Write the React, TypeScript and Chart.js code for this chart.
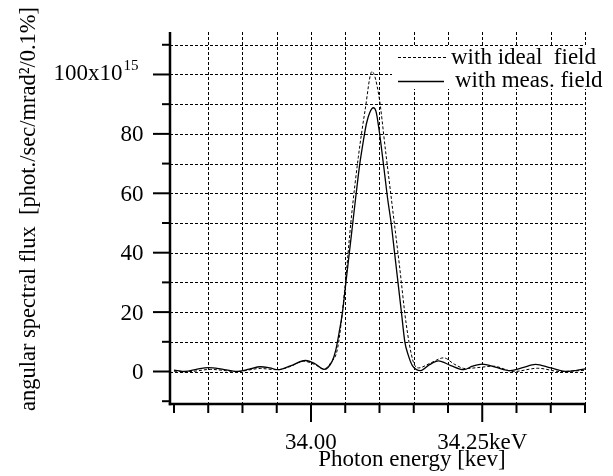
import React, { useEffect, useRef } from "react";
import { Chart, registerables } from "chart.js";

Chart.register(...registerables);

// ---- data ----
const energyIdeal = [
  33.800, 33.823, 33.853, 33.892, 33.926, 33.951, 33.970, 33.989, 34.005, 34.019,
  34.029, 34.039, 34.049, 34.059, 34.069, 34.079, 34.089, 34.099, 34.109, 34.119,
  34.129, 34.139, 34.149, 34.157, 34.174, 34.194, 34.209, 34.225, 34.247, 34.266,
  34.296, 34.331, 34.364, 34.400,
];
const fluxIdeal = [
  0.1, 0.0, 0.7, 0.0, 1.0, 0.6, 1.7, 3.5, 2.4, 0.9,
  3.0, 8, 27, 52, 72, 88, 101, 93, 74, 55,
  36, 16, 3.5, 1.2, 2.8, 4.6, 2.5, 1.0, 1.4, 1.8,
  0.0, 1.1, 0.0, 0.4,
];

const energyMeas = [
  33.800, 33.816, 33.834, 33.850, 33.870, 33.892, 33.910, 33.926, 33.940, 33.952,
  33.970, 33.992, 34.006, 34.019, 34.031, 34.036, 34.041, 34.046, 34.051, 34.056,
  34.061, 34.066, 34.071, 34.076, 34.081, 34.086, 34.091, 34.095, 34.099, 34.103,
  34.107, 34.112, 34.117, 34.122, 34.127, 34.132, 34.137, 34.142, 34.148, 34.160,
  34.173, 34.186, 34.204, 34.223, 34.236, 34.250, 34.269, 34.291, 34.309, 34.328,
  34.350, 34.375, 34.388, 34.400,
];
const fluxMeas = [
  0.5, 0.0, 0.8, 1.3, 0.8, 0.0, 0.8, 1.6, 1.2, 0.6,
  1.9, 3.7, 2.6, 0.7, 3.5, 7, 13, 20, 30, 40,
  50, 60, 69.5, 77, 83.5, 87.3, 88.8, 87.5, 82, 75,
  67.5, 58, 50, 40, 30, 20, 10, 5.5, 2.0, 0.3,
  2.3, 3.6, 2.0, 0.6, 1.8, 2.5, 1.5, 0.3, 1.3, 2.4,
  1.2, 0.0, 0.4, 0.9,
];

const xMin = 33.7942;
const xMax = 34.4;
const yMin = -10.94;
const yMax = 114.3;

const xTickValues = [33.8, 33.85, 33.9, 33.95, 34.0, 34.05, 34.1, 34.15, 34.2, 34.25, 34.3, 34.35, 34.4];
const xGridValues = [33.85, 33.9, 33.95, 34.0, 34.05, 34.1, 34.15, 34.2, 34.25, 34.3, 34.35, 34.4];
const xLabelValues = [34.0, 34.25];
const xLabelTexts = ["34.00", "34.25keV"];

const yTickValues = [-10, 0, 10, 20, 30, 40, 50, 60, 70, 80, 90, 100, 110];
const yGridValues = [0, 10, 20, 30, 40, 50, 60, 70, 80, 90, 100, 110];
const yLabelValues = [0, 20, 40, 60, 80];
const yLabelTexts = ["0", "20", "40", "60", "80"];
const yTopLabelValue = 100;
const yTopLabelBase = "100x10";
const yTopLabelExp = "15";

const legendTexts = ["with ideal  field", "with meas. field"];
const xTitle = "Photon energy [kev]";
const yTitle = "angular spectral flux  [phot./sec/mrad\u00B2/0.1%]";

const FONT = '"Liberation Serif", "Times New Roman", serif';

const framePlugin = {
  id: "frame",
  beforeDraw(chart: any) {
    const ctx = chart.ctx;
    ctx.save();
    ctx.fillStyle = "#fff";
    ctx.fillRect(0, 0, chart.width, chart.height);
    ctx.restore();
  },
  beforeDatasetsDraw(chart: any) {
    const { ctx, chartArea: a, scales } = chart;
    const x = scales.x;
    const y = scales.y;
    ctx.save();
    ctx.strokeStyle = "#000";
    ctx.lineWidth = 1;
    ctx.setLineDash([3, 2]);
    for (const v of xGridValues) {
      const px = Math.round(x.getPixelForValue(v)) + 0.5;
      ctx.beginPath();
      ctx.moveTo(px, a.top);
      ctx.lineTo(px, a.bottom);
      ctx.stroke();
    }
    for (const v of yGridValues) {
      const py = Math.round(y.getPixelForValue(v)) + 0.5;
      ctx.beginPath();
      ctx.moveTo(a.left, py);
      ctx.lineTo(a.right, py);
      ctx.stroke();
    }
    ctx.restore();
  },
  afterDatasetsDraw(chart: any) {
    const { ctx, chartArea: a, scales } = chart;
    const x = scales.x;
    const y = scales.y;
    ctx.save();

    // legend (white box over grid)
    ctx.fillStyle = "#fff";
    ctx.fillRect(392, 47, 221, 42);
    ctx.strokeStyle = "#000";
    ctx.lineWidth = 1;
    ctx.setLineDash([3, 2]);
    ctx.beginPath();
    ctx.moveTo(398, 57.5);
    ctx.lineTo(447, 57.5);
    ctx.stroke();
    ctx.setLineDash([]);
    ctx.lineWidth = 1.3;
    ctx.beginPath();
    ctx.moveTo(398, 81.5);
    ctx.lineTo(444, 81.5);
    ctx.stroke();
    ctx.fillStyle = "#000";
    ctx.font = `23px ${FONT}`;
    ctx.textAlign = "left";
    ctx.textBaseline = "alphabetic";
    ctx.fillText(legendTexts[0], 451, 64);
    ctx.fillText(legendTexts[1], 455, 87);

    // axis lines
    ctx.setLineDash([]);
    ctx.lineWidth = 2.5;
    ctx.beginPath();
    ctx.moveTo(a.left, a.top);
    ctx.lineTo(a.left, a.bottom + 1.25);
    ctx.stroke();
    ctx.beginPath();
    ctx.moveTo(a.left - 1.25, a.bottom);
    ctx.lineTo(a.right + 1, a.bottom);
    ctx.stroke();

    // y ticks
    ctx.lineWidth = 2;
    for (const v of yTickValues) {
      const py = y.getPixelForValue(v);
      const major = v % 20 === 0;
      ctx.beginPath();
      ctx.moveTo(a.left - (major ? 17 : 8), py);
      ctx.lineTo(a.left, py);
      ctx.stroke();
    }
    // x ticks
    for (const v of xTickValues) {
      const px = x.getPixelForValue(v);
      const major = xLabelValues.some((m) => Math.abs(m - v) < 1e-6);
      ctx.beginPath();
      ctx.moveTo(px, a.bottom);
      ctx.lineTo(px, a.bottom + (major ? 18 : 9));
      ctx.stroke();
    }

    // y labels
    ctx.font = `23px ${FONT}`;
    ctx.textAlign = "right";
    ctx.textBaseline = "alphabetic";
    yLabelValues.forEach((v, i) => {
      const py = y.getPixelForValue(v);
      ctx.fillText(yLabelTexts[i], 143.5, py + 7.5);
    });
    {
      const py = y.getPixelForValue(yTopLabelValue);
      ctx.fillText(yTopLabelBase, 122.5, py + 6);
      ctx.font = `15px ${FONT}`;
      ctx.textAlign = "left";
      ctx.fillText(yTopLabelExp, 123.5, py - 4.5);
    }

    // x labels
    ctx.font = `23px ${FONT}`;
    ctx.textAlign = "center";
    xLabelValues.forEach((v, i) => {
      const px = x.getPixelForValue(v);
      ctx.fillText(xLabelTexts[i], px, 449);
    });
    ctx.fillText(xTitle, 412, 466);

    // y title
    ctx.save();
    ctx.font = `22.5px ${FONT}`;
    ctx.translate(35, 209);
    ctx.rotate(-Math.PI / 2);
    ctx.textAlign = "center";
    ctx.fillText(yTitle, 0, 0);
    ctx.restore();

    ctx.restore();
  },
};

export default function App() {
  const canvasRef = useRef<HTMLCanvasElement | null>(null);

  useEffect(() => {
    const canvas = canvasRef.current;
    if (!canvas) return;
    const chart = new Chart(canvas, {
      type: "line",
      data: {
        datasets: [
          {
            label: legendTexts[0],
            data: energyIdeal.map((e, i) => ({ x: e, y: fluxIdeal[i] })),
            borderColor: "#000",
            borderWidth: 1,
            borderDash: [3, 2],
            pointRadius: 0,
            fill: false,
            cubicInterpolationMode: "monotone",
          },
          {
            label: legendTexts[1],
            data: energyMeas.map((e, i) => ({ x: e, y: fluxMeas[i] })),
            borderColor: "#000",
            borderWidth: 1.3,
            pointRadius: 0,
            fill: false,
            cubicInterpolationMode: "monotone",
          },
        ],
      },
      options: {
        animation: false,
        responsive: false,
        devicePixelRatio: 1,
        layout: { padding: { left: 170, right: 28, top: 32, bottom: 72 } },
        scales: {
          x: { type: "linear", min: xMin, max: xMax, display: false },
          y: { type: "linear", min: yMin, max: yMax, display: false },
        },
        plugins: {
          legend: { display: false },
          tooltip: { enabled: false },
        },
        events: [],
      },
      plugins: [framePlugin],
    } as any);
    return () => chart.destroy();
  }, []);

  return (
    <div style={{ position: "fixed", left: 0, top: 0, width: 613, height: 476, background: "#fff" }}>
      <canvas ref={canvasRef} width={613} height={476} style={{ width: 613, height: 476, display: "block" }} />
    </div>
  );
}
